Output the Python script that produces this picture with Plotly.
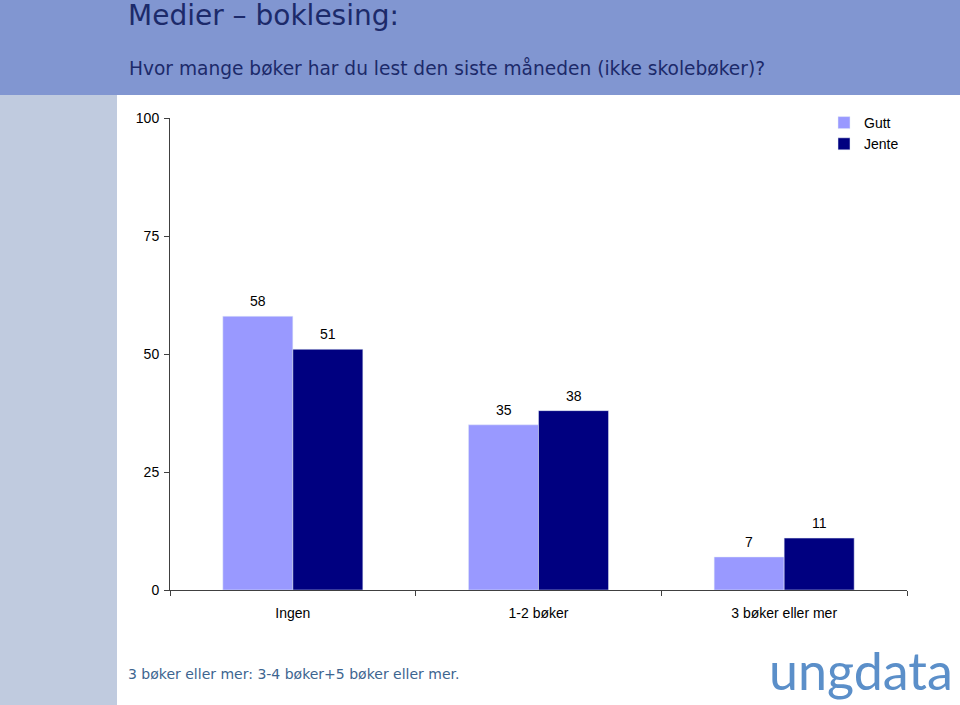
import plotly.graph_objects as go

# data
categories = ["Ingen", "1-2 bøker", "3 bøker eller mer"]
gutt = [58, 35, 7]
jente = [51, 38, 11]
y_ticks = [0, 25, 50, 75, 100]

TITLE = "Medier \u2013 boklesing:"
SUBTITLE = "Hvor mange bøker har du lest den siste måneden (ikke skolebøker)?"
FOOTNOTE = "3 bøker eller mer: 3-4 bøker+5 bøker eller mer."

W, H = 960, 705
L, R, T, B = 170, 907, 118, 590


def px_x(x):
    return (x - L) / (R - L)


def px_y(y):
    return (B - y) / (B - T)


fig = go.Figure()
fig.add_bar(name="Gutt", x=categories, y=gutt, marker_color="#9999ff")
fig.add_bar(name="Jente", x=categories, y=jente, marker_color="#000080")

# value labels sit a bit higher than plotly's "outside" text, so use annotations
label_font = dict(family="Liberation Sans, Arial", size=14, color="black")
value_labels = []
for vals, shift in [(gutt, -35), (jente, 35)]:
    for cat, v in zip(categories, vals):
        value_labels.append(dict(x=cat, y=v, text=str(v), showarrow=False,
                                 xshift=shift, yshift=15, yanchor="middle",
                                 font=label_font))

texts = [
    dict(text=TITLE, xref="paper", yref="paper", x=px_x(126), y=px_y(16),
         xanchor="left", yanchor="middle", showarrow=False,
         font=dict(family="DejaVu Sans", size=28, color="#1c2a6a")),
    dict(text=SUBTITLE, xref="paper", yref="paper", x=px_x(127), y=px_y(68),
         xanchor="left", yanchor="middle", showarrow=False,
         font=dict(family="DejaVu Sans", size=18.6, color="#1c2a6a")),
    dict(text=FOOTNOTE, xref="paper", yref="paper", x=px_x(126), y=px_y(674),
         xanchor="left", yanchor="middle", showarrow=False,
         font=dict(family="DejaVu Sans", size=14, color="#3d6590")),
    dict(text="ungdata", xref="paper", yref="paper", x=px_x(955), y=px_y(670),
         xanchor="right", yanchor="middle", showarrow=False,
         font=dict(family="Lato", size=52, color="#5b8fc9")),
]

fig.update_layout(
    width=W, height=H,
    margin=dict(l=L, r=W - R, t=T, b=H - B),
    paper_bgcolor="white", plot_bgcolor="white",
    barmode="group", bargap=0.43, bargroupgap=0,
    font=dict(family="Liberation Sans, Arial", size=14, color="black"),
    showlegend=True,
    legend=dict(x=px_x(824), y=px_y(107), xanchor="left", yanchor="top",
                bgcolor="rgba(0,0,0,0)", font=dict(size=14)),
    xaxis=dict(showline=True, linecolor="#404040", linewidth=1,
               ticks="outside", tickson="boundaries", ticklen=5, tickcolor="#404040",
               ticklabelstandoff=10, showgrid=False),
    yaxis=dict(range=[0, 100], tickvals=y_ticks, showline=True, linecolor="#404040",
               linewidth=1, ticks="outside", ticklen=5, tickcolor="#404040",
               ticklabelstandoff=2, showgrid=False, zeroline=False),
    shapes=[
        dict(type="rect", xref="paper", yref="paper", layer="below",
             x0=px_x(0), x1=px_x(960), y0=px_y(95), y1=px_y(0),
             fillcolor="#8196d1", line_width=0),
        dict(type="rect", xref="paper", yref="paper", layer="below",
             x0=px_x(0), x1=px_x(117), y0=px_y(705), y1=px_y(95),
             fillcolor="#c0cbdf", line_width=0),
    ],
    annotations=value_labels + texts,
)

# page body margin off so the figure fills the window
fig.write_html("out.html", config={"displayModeBar": False},
               post_script="document.body.style.margin='0';")
